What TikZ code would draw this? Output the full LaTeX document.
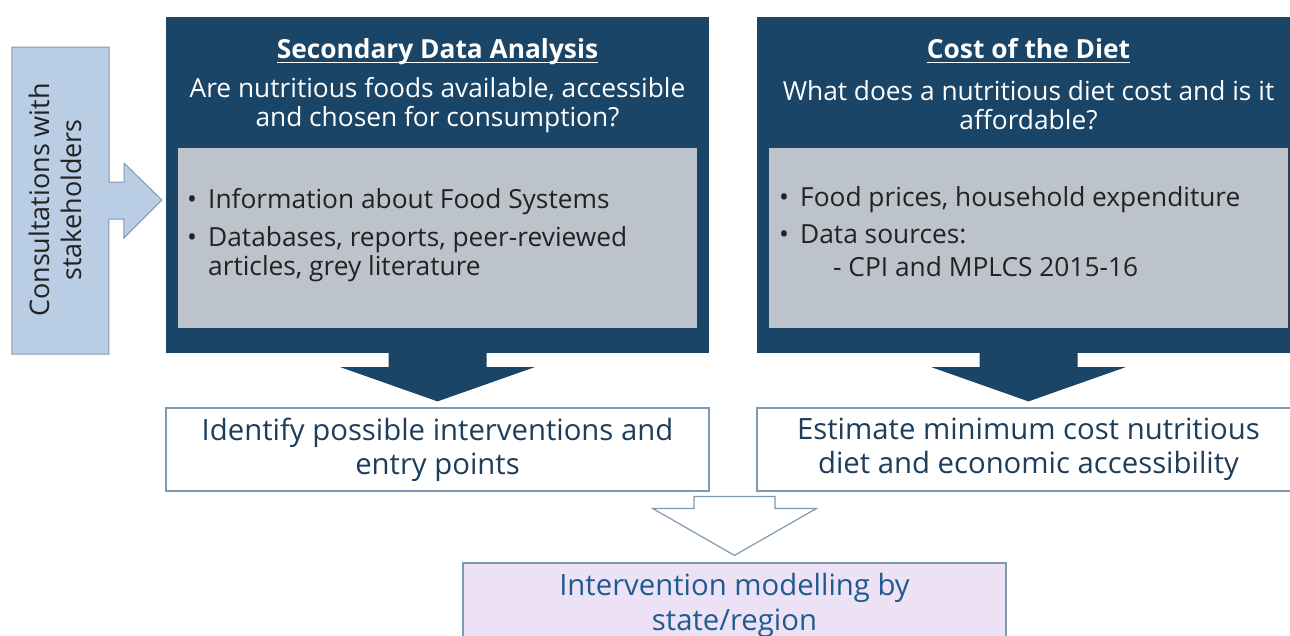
\documentclass[tikz,border=0pt]{standalone}
\usepackage{fontspec}
\setmainfont{Open Sans}
\usetikzlibrary{positioning,calc}

\definecolor{navy}{HTML}{1B4567}
\definecolor{panelgray}{HTML}{BCC3CA}
\definecolor{paleblue}{HTML}{B9CDE5}
\definecolor{edgeblue}{HTML}{7F99B2}
\definecolor{lavender}{HTML}{EDE2F5}
\definecolor{inkblue}{HTML}{1D3D5C}
\definecolor{linkblue}{HTML}{1F5B8E}
\definecolor{darkink}{HTML}{222222}

\tikzset{
	darkbox/.style={fill=navy, minimum width=543pt, minimum height=336pt, inner sep=0pt},
	panel/.style={fill=panelgray, minimum width=519pt, minimum height=180pt, inner sep=0pt},
	outbox/.style={draw=edgeblue, line width=1.2pt, fill=white, minimum width=543pt, minimum height=83pt,
		inner sep=0pt, align=center, text=inkblue, font=\fontsize{29.3}{34}\selectfont},
	headtext/.style={text=white, inner sep=0pt, font=\bfseries\fontsize{26.3}{29}\selectfont},
	asktext/.style={text=white, inner sep=0pt, align=center, font=\fontsize{26.3}{29}\selectfont},
	itemtext/.style={text=darkink, inner sep=0pt, font=\fontsize{26.3}{29}\selectfont},
	hollow/.style={draw=edgeblue, line width=1.2pt, fill=white}
}

\begin{document}
\begin{tikzpicture}[x=1pt, y=-1pt]
	%\draw[help lines, step=50] (0,0) grid (1290,635);
	\useasboundingbox (0,0) rectangle (1290,635);

	\node[darkbox] (sda) at (437.5,185) {};
	\node[darkbox] (cod) at (1028.5,185) {};

	\node[panel] (sdapanel) at (437.5,238) {};
	\node[panel] (codpanel) at (1028.5,238) {};

	\node[headtext, anchor=base] (sdahead) at ($(sda.north)+(0,42)$) {Secondary Data Analysis};
	\draw[white, line width=1.5pt] ($(sdahead.base west)+(0,3.5)$) -- ($(sdahead.base east)+(0,3.5)$);
	\node[asktext] (sdaask) at ($(sda.north)+(0,88)$) {Are nutritious foods available, accessible\\and chosen for consumption?};

	\node[headtext, anchor=base] (codhead) at ($(cod.north)+(0,42)$) {Cost of the Diet};
	\draw[white, line width=1.5pt] ($(codhead.base west)+(0,3.5)$) -- ($(codhead.base east)+(0,3.5)$);
	\node[asktext] (codask) at ($(cod.north)+(0,88)$) {What does a nutritious diet cost and is it\\affordable?};

	\node[itemtext, anchor=base west] (sdaitems) at (187,208.5) {\begin{tabular}[t]{@{}p{21pt}@{}l@{}}
		\textbullet & Information about Food Systems\\[9pt]
		\textbullet & Databases, reports, peer-reviewed\\
		 & articles, grey literature
	\end{tabular}};

	\node[itemtext, anchor=base west] (coditems) at (779,206.5) {\begin{tabular}[t]{@{}p{21pt}@{}l@{}}
		\textbullet & Food prices, household expenditure\\[8pt]
		\textbullet & Data sources:\\[4pt]
		 & \hspace*{33pt}- CPI and MPLCS 2015-16
	\end{tabular}};

	\node[outbox] (idf) at (437.5,449.5) {Identify possible interventions and\\entry points};
	\node[outbox] (est) at (1028.5,449.5) {Estimate minimum cost nutritious\\diet and economic accessibility};

	\node[outbox, fill=lavender, minimum height=84pt, text=linkblue, font=\fontsize{29.3}{35}\selectfont] (imod) at (734.5,605) {Intervention modelling by\\state/region};

	% consultations box with its arrow
	\draw[draw=edgeblue, fill=paleblue, line width=1pt] (12,47) -- ++(97,0) -- ++(0,135) -- ++(15,0) -- ++(0,-19)
		-- ($(sda.west)+(-4,15)$) -- ++(-38,38) -- ++(0,-19) -- ++(-15,0) -- ++(0,135) -- ++(-97,0) -- cycle;
	\node[rotate=90, align=center, inner sep=0pt, text=darkink, font=\fontsize{27}{32}\selectfont] (cons) at (55,200) {Consultations with\\stakeholders};

	\fill[navy] ($(sda.south)+(-49,-1)$) -- ++(0,15) -- ++(-48,0) -- ($(idf.north)+(0,-6)$)
		-- ($(sda.south)+(97,14)$) -- ++(-48,0) -- ++(0,-15) -- cycle;
	\fill[navy] ($(cod.south)+(-49,-1)$) -- ++(0,15) -- ++(-48,0) -- ($(est.north)+(0,-6)$)
		-- ($(cod.south)+(97,14)$) -- ++(-48,0) -- ++(0,-15) -- cycle;

	\draw[hollow] ($(imod.north)+(-40.5,-66)$) -- ++(81,0) -- ++(0,12) -- ++(41.5,0) -- ($(imod.north)+(0,-7)$)
		-- ($(imod.north)+(-82,-54)$) -- ++(41.5,0) -- cycle;
\end{tikzpicture}
\end{document}
